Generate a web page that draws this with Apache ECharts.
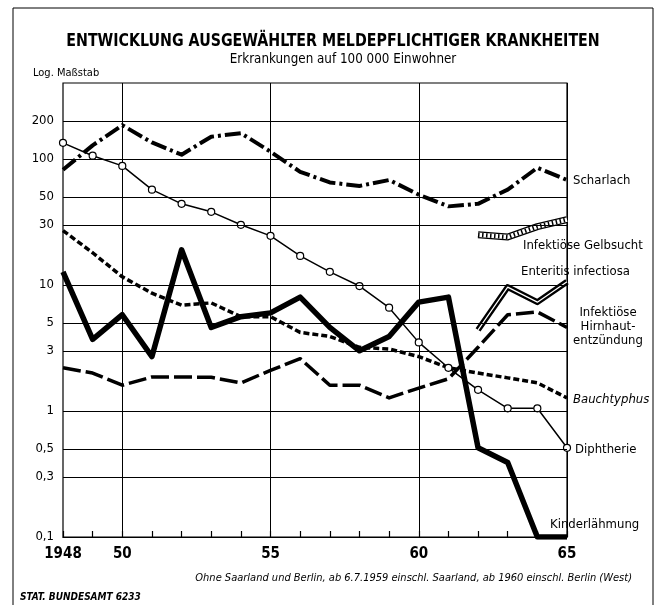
<!DOCTYPE html>
<html>
<head>
<meta charset="utf-8">
<script src="https://cdn.jsdelivr.net/npm/echarts@6/dist/echarts.min.js"></script>
<style>
  html, body { margin: 0; padding: 0; background: #fff; }
  #main { width: 660px; height: 605px; }
</style>
</head>
<body>
<div id="main"></div>
<script>
// Jahre und Werte (Erkrankungen auf 100 000 Einwohner)
var years = ['1948','1949','1950','1951','1952','1953','1954','1955','1956','1957','1958','1959','1960','1961','1962','1963','1964','1965'];
var scharlach      = [82, 128, 185, 135, 108, 150, 160, 114, 79, 65, 61, 68, 52, 42, 44, 57, 85, 68];
var diphtherie     = [134, 106, 88, 57, 44, 38, 30, 24.5, 17, 12.7, 9.8, 6.6, 3.5, 2.2, 1.47, 1.05, 1.05, 0.51];
var bauchtyphus    = [27, 18, 11.6, 8.6, 6.9, 7.2, 5.6, 5.6, 4.2, 3.9, 3.2, 3.1, 2.7, 2.2, 2.0, 1.83, 1.67, 1.27];
var kinderlaehmung = [12.7, 3.7, 5.8, 2.7, 19, 4.6, 5.6, 6.0, 8.0, 4.6, 3.0, 3.9, 7.3, 8.0, 0.51, 0.39, 0.1, 0.1];
var hirnhaut       = [2.2, 2.0, 1.6, 1.86, 1.86, 1.85, 1.67, 2.1, 2.6, 1.6, 1.6, 1.27, 1.52, 1.8, 3.2, 5.8, 6.1, 4.6];
var enteritis      = [null, null, null, null, null, null, null, null, null, null, null, null, null, null, 4.4, 9.6, 7.3, 10.6];
var gelbsucht      = [null, null, null, null, null, null, null, null, null, null, null, null, null, null, 25, 24, 29, 33];

var yTicks      = [0.1, 0.3, 0.5, 1, 3, 5, 10, 30, 50, 100, 200];
var yTickLabels = ['0,1', '0,3', '0,5', '1', '3', '5', '10', '30', '50', '100', '200'];
var xTickLabels = { '1948': '1948', '1950': '50', '1955': '55', '1960': '60', '1965': '65' };

var font = "'Liberation Sans Narrow', 'DejaVu Sans Condensed', sans-serif";

let myChart = echarts.init(document.getElementById('main'));

function line(data, width, type, z, color) {
  return {
    type: 'line',
    data: data,
    symbol: 'none',
    silent: true,
    z: z || 3,
    emphasis: { disabled: true },
    lineStyle: { color: color || '#000', width: width, type: type, cap: 'butt', join: 'round' }
  };
}

var diph = line(diphtherie, 1.5, 'solid', 4);
diph.symbol = 'circle';
diph.symbolSize = 7;
diph.showSymbol = true;
diph.itemStyle = { color: '#fff', borderColor: '#000', borderWidth: 1.2 };

// Gitterlinien der log. Achse
var gridSeries = {
  type: 'line',
  data: [],
  silent: true,
  z: 1,
  markLine: {
    silent: true,
    symbol: 'none',
    animation: false,
    lineStyle: { color: '#000', width: 1, type: 'solid' },
    label: {
      position: 'start',
      distance: 9,
      color: '#000',
      fontSize: 13,
      fontFamily: font,
      formatter: function (p) { return yTickLabels[yTicks.indexOf(p.value)]; }
    },
    data: yTicks.map(function (v) { return { yAxis: v }; })
  }
};

function txt(x, y, text, size, opts) {
  opts = opts || {};
  return {
    type: 'text', x: x, y: y, scaleX: opts.sx || 1, silent: true,
    style: {
      text: text,
      font: (opts.style || '') + ' ' + size + 'px ' + font,
      fill: '#000',
      align: opts.align || 'left',
      verticalAlign: 'middle',
      lineHeight: opts.lh
    }
  };
}

let option = {
  animation: false,
  grid: { left: 63, right: 93, top: 83, bottom: 68, show: true, borderColor: '#000', borderWidth: 1.2 },
  xAxis: {
    type: 'category',
    boundaryGap: false,
    data: years,
    axisLine: { lineStyle: { color: '#000', width: 1.2 } },
    axisTick: { inside: true, length: 6, interval: 0, lineStyle: { color: '#000', width: 1.2 } },
    axisLabel: {
      interval: 0,
      margin: 10,
      color: '#000',
      fontSize: 15,
      fontWeight: 'bold',
      fontFamily: font,
      formatter: function (v) { return xTickLabels[v] || ''; }
    },
    splitLine: {
      show: true,
      interval: function (i) { return i === 2 || i === 7 || i === 12 || i === 17; },
      lineStyle: { color: '#000', width: 1 }
    }
  },
  yAxis: {
    type: 'log',
    logBase: 10,
    min: 0.1,
    max: 400,
    axisLine: { show: false },
    axisTick: { show: false },
    axisLabel: { show: false },
    splitLine: { show: false }
  },
  series: [
    gridSeries,
    line(scharlach, 4, [16, 4, 3, 4]),
    line(bauchtyphus, 3.5, [6, 3]),
    line(hirnhaut, 3.5, [18, 5]),
    line(kinderlaehmung, 5.5, 'solid', 5),
    diph,
    // Enteritis: Doppellinie
    line(enteritis, 6, 'solid', 3),
    line(enteritis, 1.2, 'solid', 4, '#fff'),
    // Gelbsucht: schraffiertes Band
    line(gelbsucht, 7, 'solid', 3),
    line(gelbsucht, 4.4, 'solid', 4, '#fff'),
    line(gelbsucht, 4.4, [1.5, 2.5], 5, '#000')
  ],
  graphic: [
    { type: 'rect', shape: { x: 13, y: 8, width: 640, height: 620 }, style: { fill: 'none', stroke: '#000', lineWidth: 1 }, silent: true },
    txt(333, 42, 'ENTWICKLUNG AUSGEWÄHLTER MELDEPFLICHTIGER KRANKHEITEN', 17, { style: 'bold', align: 'center', sx: 0.93 }),
    txt(343, 59, 'Erkrankungen auf 100 000 Einwohner', 14, { align: 'center', sx: 0.95 }),
    txt(33, 73, 'Log. Maßstab', 11),
    txt(573, 181, 'Scharlach', 13),
    txt(523, 246, 'Infektiöse Gelbsucht', 13),
    txt(521, 272, 'Enteritis infectiosa', 13),
    txt(608, 327, 'Infektiöse\nHirnhaut-\nentzündung', 13, { align: 'center', lh: 14 }),
    txt(573, 400, 'Bauchtyphus', 13, { style: 'italic' }),
    txt(575, 450, 'Diphtherie', 13),
    txt(550, 525, 'Kinderlähmung', 13),
    txt(632, 578, 'Ohne Saarland und Berlin, ab 6.7.1959 einschl. Saarland, ab 1960 einschl. Berlin (West)', 11, { style: 'italic', align: 'right' }),
    txt(20, 597, 'STAT. BUNDESAMT 6233', 10, { style: 'italic bold' })
  ]
};

myChart.setOption(option);
</script>
</body>
</html>
